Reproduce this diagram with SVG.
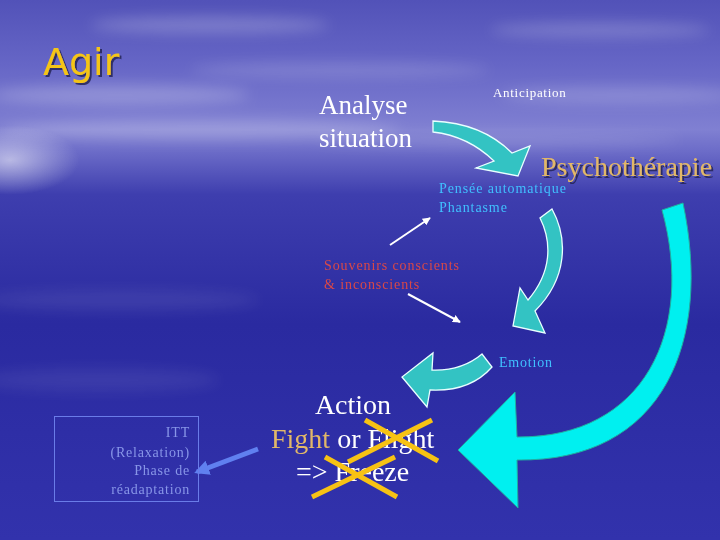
<svg xmlns="http://www.w3.org/2000/svg" width="720" height="540" viewBox="0 0 720 540">
<defs>
  <linearGradient id="bg" x1="0" y1="0" x2="0" y2="1">
    <stop offset="0" stop-color="#5252b8"/>
    <stop offset="0.12" stop-color="#6666c6"/>
    <stop offset="0.24" stop-color="#8080d2"/>
    <stop offset="0.28" stop-color="#6c6cc8"/>
    <stop offset="0.36" stop-color="#3e3eae"/>
    <stop offset="0.6" stop-color="#2a2aa0"/>
    <stop offset="1" stop-color="#3232ac"/>
  </linearGradient>
  <radialGradient id="glow" cx="0.5" cy="0.5" r="0.5">
    <stop offset="0" stop-color="#ffffff" stop-opacity="0.55"/>
    <stop offset="1" stop-color="#ffffff" stop-opacity="0"/>
  </radialGradient>
  <filter id="blur" x="-20%" y="-50%" width="140%" height="200%"><feGaussianBlur stdDeviation="7"/></filter>
  <filter id="shadow" x="-10%" y="-10%" width="130%" height="140%">
    <feDropShadow dx="2" dy="2" stdDeviation="0.6" flood-color="#202050" flood-opacity="0.8"/>
  </filter>
  <marker id="wh" viewBox="0 0 10 10" refX="9" refY="5" markerWidth="4" markerHeight="4" orient="auto">
    <path d="M0,0 L10,5 L0,10 Z" fill="#ffffff"/>
  </marker>
  <marker id="bh" viewBox="0 0 10 10" refX="8" refY="5" markerWidth="3" markerHeight="3" orient="auto">
    <path d="M0,0 L10,5 L0,10 Z" fill="#6080f0"/>
  </marker>
  <style>
    .serif{font-family:"Liberation Serif","Times New Roman",serif}
    .big{font-size:27px;fill:#ffffff}
    .act{font-size:28px;fill:#ffffff}
    .small{font-size:14px;letter-spacing:0.9px}
    .blue{fill:#40c0ff}
    .red{fill:#d84848}
    .itt{fill:#8896e8;font-size:14px;letter-spacing:0.8px}
    .teal{fill:#33c3c3;stroke:#e8ffff;stroke-width:1.3}
    .cross{stroke:#f7c214;stroke-width:5;stroke-linecap:butt}
  </style>
</defs>

<!-- background -->
<rect width="720" height="540" fill="url(#bg)"/>
<g filter="url(#blur)" fill="#ffffff">
  <ellipse cx="210" cy="25" rx="120" ry="8" opacity="0.22"/>
  <ellipse cx="600" cy="30" rx="110" ry="7" opacity="0.2"/>
  <ellipse cx="120" cy="95" rx="130" ry="10" opacity="0.22"/>
  <ellipse cx="340" cy="70" rx="150" ry="8" opacity="0.15"/>
  <ellipse cx="620" cy="95" rx="120" ry="8" opacity="0.18"/>
  <ellipse cx="200" cy="130" rx="200" ry="10" opacity="0.22"/>
  <ellipse cx="500" cy="140" rx="180" ry="6" opacity="0.15"/>
  <ellipse cx="120" cy="300" rx="140" ry="10" opacity="0.08"/>
  <ellipse cx="100" cy="380" rx="120" ry="12" opacity="0.07"/>
</g>
<ellipse cx="10" cy="160" rx="70" ry="35" fill="url(#glow)"/>

<!-- title -->
<text x="43" y="75" font-family="'DejaVu Sans',Verdana,sans-serif" font-size="38" fill="#f5c518" filter="url(#shadow)">Agir</text>

<!-- connectors -->
<g id="connectors">
  <path id="arrow-analyse" class="teal" d="M433,121 Q482,123 512,153 L530,146 L518,176 L476,168 L494,161 Q468,136 433,132 Z"/>
  <path id="arrow-pensee" class="teal" d="M552,209 C568,238 568,278 535,311 L545,333 L513,326 L520,288 L528,300 C552,272 552,242 540,218 Z"/>
  <path id="arrow-emotion" class="teal" d="M482,354 Q462,371 432,370 L433,353 L402,377 L427,407 L430,390 Q470,392 492,367 Z"/>
  <path id="arrow-psy" fill="#00f0f0" stroke="#20b0a0" stroke-width="1" d="M683,203 C712,340 665,462 517,460 L518,508 L458,450 L515,392 L517,437 C645,438 695,330 662,210 Z"/>
  <line x1="390" y1="245" x2="430" y2="218" stroke="#ffffff" stroke-width="2" marker-end="url(#wh)"/>
  <line x1="408" y1="294" x2="460" y2="322" stroke="#ffffff" stroke-width="2" marker-end="url(#wh)"/>
  <line x1="258" y1="449" x2="197" y2="472" stroke="#6080f0" stroke-width="5" marker-end="url(#bh)"/>
</g>

<g id="node-analyse">
  <text class="serif big" x="319" y="114">Analyse</text>
  <text class="serif big" x="319" y="147">situation</text>
</g>
<g id="node-anticipation">
  <text class="serif" x="493" y="97" font-size="13" letter-spacing="0.7" fill="#ffffff">Anticipation</text>
</g>
<g id="node-psy">
  <text class="serif" x="541" y="176" font-size="28" fill="#e2b868" filter="url(#shadow)">Psychothérapie</text>
</g>
<g id="node-pensee">
  <text class="serif small blue" x="439" y="193">Pensée automatique</text>
  <text class="serif small blue" x="439" y="212">Phantasme</text>
</g>
<g id="node-souvenirs">
  <text class="serif small red" x="324" y="270">Souvenirs conscients</text>
  <text class="serif small red" x="324" y="289">&amp; inconscients</text>
</g>
<g id="node-emotion">
  <text class="serif blue" x="499" y="367" font-size="14" letter-spacing="0.8">Emotion</text>
</g>
<g id="node-action">
  <text class="serif act" x="353" y="414" text-anchor="middle">Action</text>
  <text class="serif act" x="271" y="448"><tspan fill="#e2b868">Fight</tspan> or Flight</text>
  <text class="serif act" x="296" y="481">=&gt; Freeze</text>
  <line class="cross" x1="365" y1="420" x2="438" y2="461"/>
  <line class="cross" x1="432" y1="420" x2="348" y2="462"/>
  <line class="cross" x1="325" y1="457" x2="397" y2="497"/>
  <line class="cross" x1="395" y1="457" x2="312" y2="497"/>
</g>
<g id="node-itt">
  <rect x="54.5" y="416.5" width="144" height="85" fill="none" stroke="#6a7ce8" stroke-width="1"/>
  <text class="serif itt" x="190" y="437" text-anchor="end">ITT</text>
  <text class="serif itt" x="190" y="457" text-anchor="end">(Relaxation)</text>
  <text class="serif itt" x="190" y="475" text-anchor="end">Phase de</text>
  <text class="serif itt" x="190" y="494" text-anchor="end">réadaptation</text>
</g>
</svg>
